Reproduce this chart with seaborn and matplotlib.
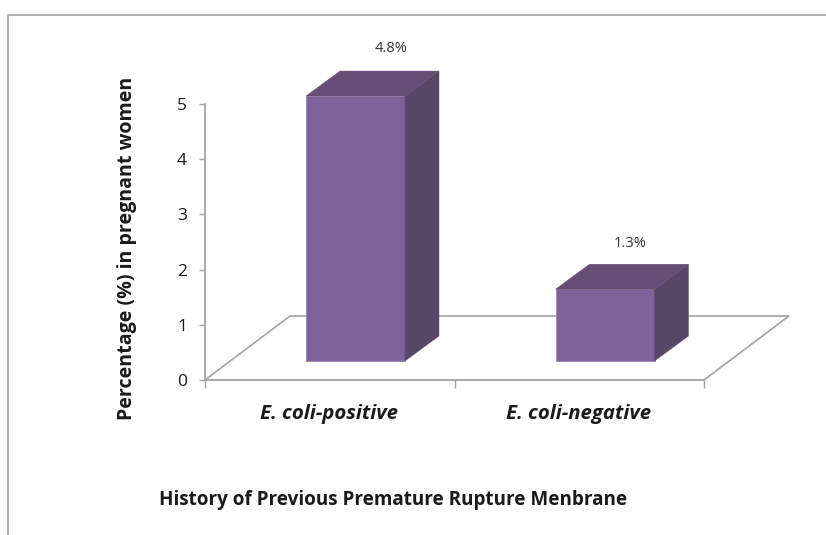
import matplotlib
matplotlib.use("Agg")
import matplotlib.pyplot as plt
from matplotlib.lines import Line2D
from matplotlib.patches import Polygon
import seaborn as sns

# values
categories = ["E. coli-positive", "E. coli-negative"]
percent = [4.8, 1.3]
percent_labels = ["4.8%", "1.3%"]
y_ticks = [0, 1, 2, 3, 4, 5]

W, H = 826, 535
sns.set_style("white")
plt.rcParams["font.family"] = ["Open Sans", "DejaVu Sans"]

GREY = "#a3a3a3"
FRONT = "#7f6299"
TOP = "#654e75"
SIDE = "#584766"

# px per unit on each axis, the 3d look needs these
px_y = 276 / 5
px_x = 249.5
dx = 34 / px_x
dy = 25 / px_y
lift = 19 / px_y  # bars float a bit above the floor edge

fig = plt.figure(figsize=(W / 100, H / 100), dpi=100)
ax = fig.add_axes([205 / W, (H - 380) / H, 499 / W, 276 / H])

sns.barplot(x=categories, y=percent, color=FRONT, saturation=1, width=99 / px_x,
            bottom=lift, edgecolor="#9d86b3", linewidth=0.6, zorder=3, ax=ax)

ax.set_xlim(-150.5 / px_x, 348.5 / px_x)
ax.set_ylim(0, 5)

# floor of the 3d box
back = 64 / px_y
fx = 85 / px_x
x0, x1 = ax.get_xlim()
ax.plot([x0, x0 + fx, x1 + fx, x1], [0, back, back, 0], color=GREY, lw=1.2,
        clip_on=False, zorder=1)

# sides and tops of the bars, label nudges are in points
nudges = [(1, 16.2), (-6.5, 15.2)]
for bar, label, nudge in zip(ax.patches, percent_labels, nudges):
    left, right = bar.get_x(), bar.get_x() + bar.get_width()
    low, high = bar.get_y(), bar.get_y() + bar.get_height()
    ax.add_patch(Polygon([(right, low), (right + dx, low + dy), (right + dx, high + dy), (right, high)],
                         fc=SIDE, ec=SIDE, lw=0.3, clip_on=False, zorder=3))
    ax.add_patch(Polygon([(left, high), (left + dx, high + dy), (right + dx, high + dy), (right, high)],
                         fc=TOP, ec=TOP, lw=0.3, clip_on=False, zorder=3))
    bar.set_clip_on(False)
    ax.annotate(label, (left + bar.get_width() / 2 + dx, high + dy), xytext=nudge,
                textcoords="offset points", ha="center", va="center", fontsize=10.5,
                color="#333333", annotation_clip=False)

for side in ["top", "right"]:
    ax.spines[side].set_visible(False)
for side in ["left", "bottom"]:
    ax.spines[side].set_visible(True)
    ax.spines[side].set_color(GREY)
    ax.spines[side].set_linewidth(1.3)

ax.set_yticks(y_ticks)
ax.set_yticklabels([str(t) for t in y_ticks], fontsize=12.5, color="#1a1a1a")
ax.tick_params(axis="y", left=True, length=4, width=1, color=GREY, pad=9)

# ticks sit between the categories, names are shifted back with the depth
ax.set_xticks([x0, (x0 + x1) / 2, x1])
ax.set_xticklabels([])
ax.tick_params(axis="x", bottom=True, length=6, width=1, color=GREY)
for i, name in enumerate(categories):
    ax.text(i - 0.105, -0.62, name, ha="center", va="center", fontsize=14.7,
            fontweight="bold", fontstyle="italic", color="#1a1a1a", clip_on=False)

fig.text(127 / W, 1 - 248 / H, "Percentage (%) in pregnant women", rotation=90,
         ha="center", va="center", fontsize=14.1, fontweight="bold", color="#1a1a1a")
fig.text(393.5 / W, 1 - 500 / H, "History of Previous Premature Rupture Menbrane",
         ha="center", va="center", fontsize=13.6, fontweight="bold", color="#1a1a1a")

# frame of the cropped figure, top and left only
fig.add_artist(Line2D([8 / W, 8 / W, 1], [0, 1 - 14.5 / H, 1 - 14.5 / H], color="#9a9a9a", lw=1.1))

fig.savefig("out.png", dpi=100)
